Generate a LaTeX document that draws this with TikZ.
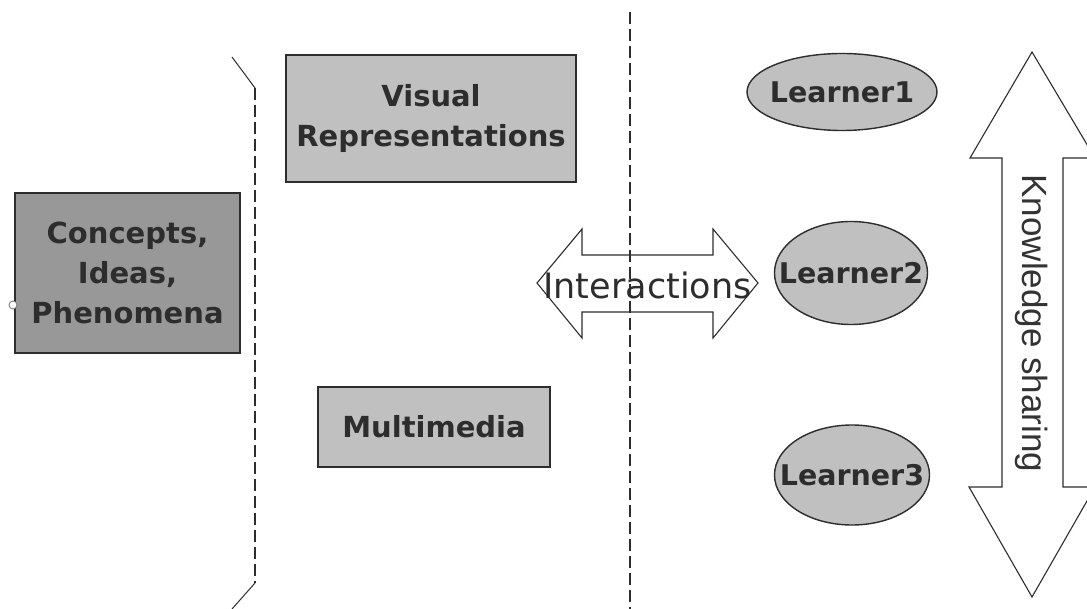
\documentclass[tikz,border=0pt]{standalone}
\usepackage{fontspec}
\setmainfont{DejaVu Sans}
\newfontfamily\arialfont{Liberation Sans}
\usetikzlibrary{positioning,calc,shapes.geometric}
\definecolor{ink}{RGB}{45,45,45}
\definecolor{darkfill}{RGB}{152,152,152}
\definecolor{lightfill}{RGB}{192,192,192}
\tikzset{
  box/.style={draw=ink,line width=1.6pt,fill=lightfill,text=ink,align=center,
    inner sep=0pt,font=\bfseries\fontsize{29}{40}\selectfont},
  darkbox/.style={box,fill=darkfill},
  learner/.style={ellipse,draw=ink,line width=1.4pt,fill=lightfill,inner sep=0pt},
  lname/.style={text=ink,font=\bfseries\fontsize{28.5}{28.5}\selectfont},
  hollow/.style={draw=ink,line width=1.1pt,line join=miter},
  splitline/.style={ink,line width=1.3pt,dash pattern=on 12pt off 5pt},
  grip/.style={circle,draw=gray,fill=white,line width=0.9pt,inner sep=0pt,minimum size=8pt},
}

\begin{document}
\begin{tikzpicture}[x=1pt,y=-1pt]
  \clip (0,0) rectangle (1087,609);
  \fill[white] (0,0) rectangle (1087,609);

  % left: the topic and its bracket
  \node[darkbox,minimum width=225pt,minimum height=160pt] (concepts) at (127.5,273)
    {Concepts,\\Ideas,\\Phenomena};
  \node[grip] (handle) at (13,305) {};
  \coordinate (brtop) at (232,57);
  \coordinate (brA) at (255,88);
  \coordinate (brB) at (255,583);
  \coordinate (brbot) at (232,609);
  \draw[ink,line width=1pt] (brtop) -- (brA);
  \draw[splitline] (brA) -- (brB);
  \draw[ink,line width=1pt] (brB) -- (brbot);

  % middle: representations
  \node[box,minimum width=290pt,minimum height=127pt] (visual) at (431,118.5)
    {Visual\\Representations};
  \node[box,minimum width=232pt,minimum height=80pt] (media) at (434,427) {Multimedia};

  % divider
  \coordinate (midtop) at (630,12);
  \coordinate (midbot) at (630,609);
  \draw[splitline] (midtop) -- (midbot);

  % interactions arrow
  \coordinate (ia) at (537,283);
  \draw[hollow] (ia) -- ++(45,-54) -- ++(0,26) -- ++(131,0) -- ++(0,-26)
    -- ++(45,54) -- ++(-45,55) -- ++(0,-26) -- ++(-131,0) -- ++(0,26) -- cycle;
  \node[text=ink,font=\fontsize{35}{35}\selectfont,anchor=base] (interact) at (647.5,299)
    {Interactions};

  % learners
  \node[learner,minimum width=190pt,minimum height=77pt,
    label={[lname]center:Learner1}] (l1) at (842,92) {};
  \node[learner,minimum width=153pt,minimum height=103pt,
    label={[lname]center:Learner2}] (l2) at (851,273) {};
  \node[learner,minimum width=155pt,minimum height=100pt,
    label={[lname]center:Learner3}] (l3) at (852,475) {};

  % knowledge sharing arrow (runs off the right edge)
  \coordinate (ks) at (1032,52);
  \draw[hollow] (ks) -- ++(63,106) -- ++(-32,0) -- ++(0,329) -- ++(32,0)
    -- ++(-63,110) -- ++(-63,-110) -- ++(33,0) -- ++(0,-329) -- ++(-32,0) -- cycle;
  \node[rotate=-90,text=black!80,font=\arialfont\fontsize{35}{35}\selectfont] (share)
    at (1032,323.5) {Knowledge sharing};
\end{tikzpicture}
\end{document}
